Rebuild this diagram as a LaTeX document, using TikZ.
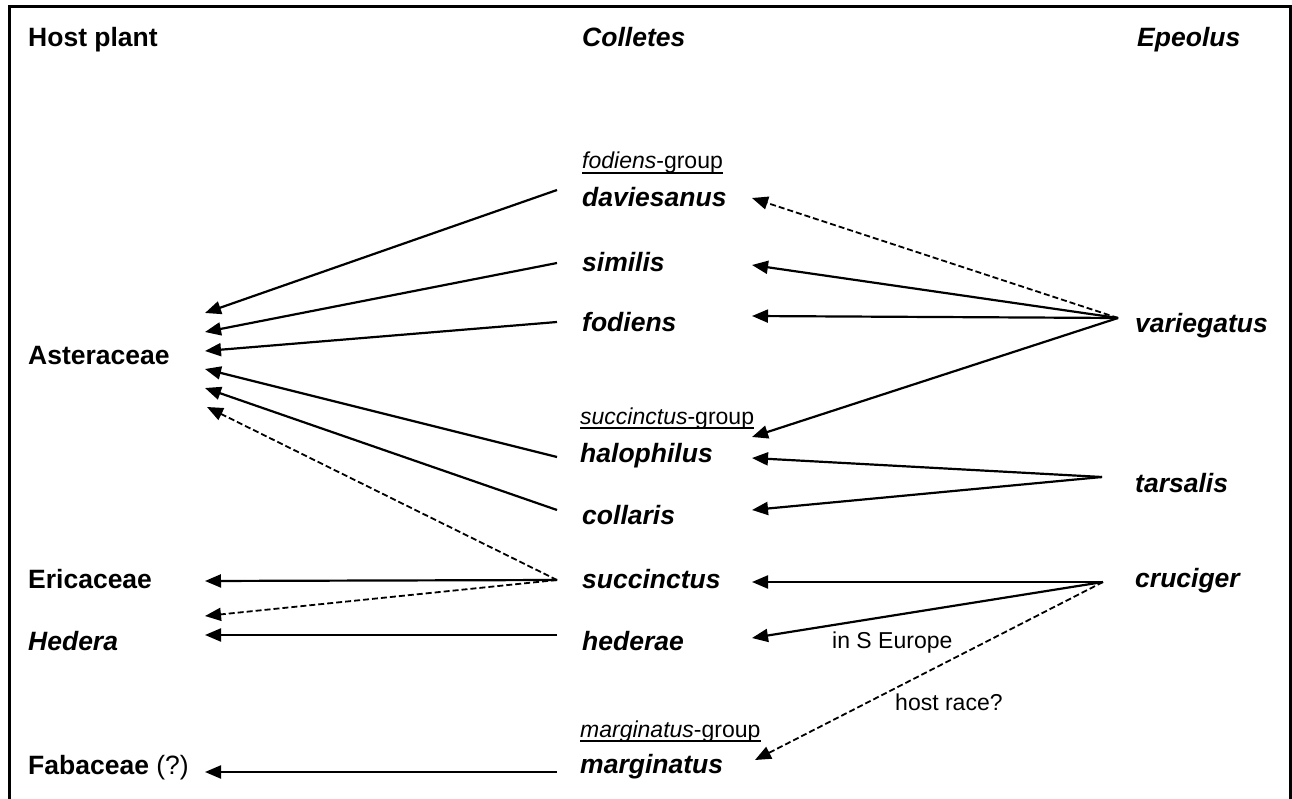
\documentclass[tikz,border=0pt]{standalone}
\usepackage{fontspec}
\setmainfont{Liberation Sans}
\usetikzlibrary{arrows.meta,calc}
\begin{document}
\begin{tikzpicture}[x=1pt,y=-1pt,
  lbl/.style={anchor=base west,inner sep=0pt,font=\fontsize{26.5}{30}\selectfont\bfseries},
  sp/.style={anchor=base west,inner sep=0pt,font=\fontsize{26.5}{30}\selectfont\bfseries\itshape},
  grp/.style={anchor=base west,inner sep=0pt,font=\fontsize{23}{27}\selectfont},
  note/.style={anchor=base west,inner sep=0pt,font=\fontsize{23}{27}\selectfont},
  conn/.style={line width=2.2pt,-{Triangle[length=16pt,width=13pt]}},
  dconn/.style={line width=1.8pt,dash pattern=on 6pt off 3pt,-{Triangle[length=16pt,width=13pt]}},
  uline/.style={line width=1.8pt}
]
\useasboundingbox (0,0) rectangle (1292,799);
\fill[white] (0,0) rectangle (1292,799);
% frame
\draw[line width=3pt] (9,799) -- (9,6.5) -- (1290.5,6.5) -- (1290.5,799);

% headers
\node[lbl] (hHost) at (28,47) {Host plant};
\node[sp] (hCol) at (582,47) {Colletes};
\node[sp] (hEpe) at (1137,47) {Epeolus};

% host plants
\node[lbl] (ast) at (28,364) {Asteraceae};
\node[lbl] (eri) at (28,588) {Ericaceae};
\node[sp] (hedp) at (28,650) {Hedera};
\node[lbl] (fab) at (28,774) {Fabaceae \mdseries(?)};

% Colletes
\node[grp] (gfod) at (582,169) {\textit{fodiens}-group};
\node[sp] (dav) at (582,207) {daviesanus};
\node[sp] (sim) at (582,272) {similis};
\node[sp] (fod) at (582,331) {fodiens};
\node[grp] (gsuc) at (580,424) {\textit{succinctus}-group};
\node[sp] (hal) at (580,462) {halophilus};
\node[sp] (col) at (582,524) {collaris};
\node[sp] (suc) at (582,588) {succinctus};
\node[sp] (hed) at (582,650) {hederae};
\node[grp] (gmar) at (580,737) {\textit{marginatus}-group};
\node[sp] (mar) at (580,773) {marginatus};

% Epeolus
\node[sp] (var) at (1135,333) {variegatus};
\node[sp] (tar) at (1135,492) {tarsalis};
\node[sp] (cru) at (1135,587) {cruciger};

% underlines
\draw[uline] ($(gfod.base west)+(0,4)$) -- ($(gfod.base east)+(0,4)$);
\draw[uline] ($(gsuc.base west)+(0,4)$) -- ($(gsuc.base east)+(0,4)$);
\draw[uline] ($(gmar.base west)+(0,4)$) -- ($(gmar.base east)+(0,4)$);

% ports
\coordinate (astA) at (205,313);
\coordinate (astB) at (205,332);
\coordinate (astC) at (205,351);
\coordinate (astD) at (205,369);
\coordinate (astE) at (205,388);
\coordinate (astF) at (207,407);
\coordinate (eriA) at (205,581);
\coordinate (hedA) at (205,616);
\coordinate (hedB) at (205,635);
\coordinate (fabA) at (205,772);

\coordinate (davL) at (557,190);
\coordinate (simL) at (557,263);
\coordinate (fodL) at (557,322);
\coordinate (halL) at (557,457);
\coordinate (colL) at (557,510);
\coordinate (sucL) at (557,580);
\coordinate (hedL) at (557,635);
\coordinate (marL) at (557,772);

\coordinate (davR) at (752,198);
\coordinate (simR) at (752,265);
\coordinate (fodR) at (752,316);
\coordinate (halRa) at (752,437);
\coordinate (halRb) at (752,458);
\coordinate (colR) at (752,510);
\coordinate (sucR) at (752,582);
\coordinate (hedR) at (752,638);
\coordinate (marR) at (755,760);

\coordinate (varP) at (1118,318);
\coordinate (tarP) at (1102,477);
\coordinate (cruP) at (1103,582);

% host plant connectors
\draw[conn] (davL) -- (astA);
\draw[conn] (simL) -- (astB);
\draw[conn] (fodL) -- (astC);
\draw[conn] (halL) -- (astD);
\draw[conn] (colL) -- (astE);
\draw[dconn] (sucL) -- (astF);
\draw[conn] (sucL) -- (eriA);
\draw[dconn] (sucL) -- (hedA);
\draw[conn] (hedL) -- (hedB);
\draw[conn] (marL) -- (fabA);

% Epeolus connectors
\draw[dconn] (varP) -- (davR);
\draw[conn] (varP) -- (simR);
\draw[conn] (varP) -- (fodR);
\draw[conn] (varP) -- (halRa);
\draw[conn] (tarP) -- (halRb);
\draw[conn] (tarP) -- (colR);
\draw[conn] (cruP) -- (sucR);
\draw[conn] (cruP) -- (hedR);
\draw[dconn] (cruP) -- (marR);

% notes
\node[note] (nS) at (832,648) {in S Europe};
\node[note] (nH) at (895,710) {host race?};
\end{tikzpicture}
\end{document}
